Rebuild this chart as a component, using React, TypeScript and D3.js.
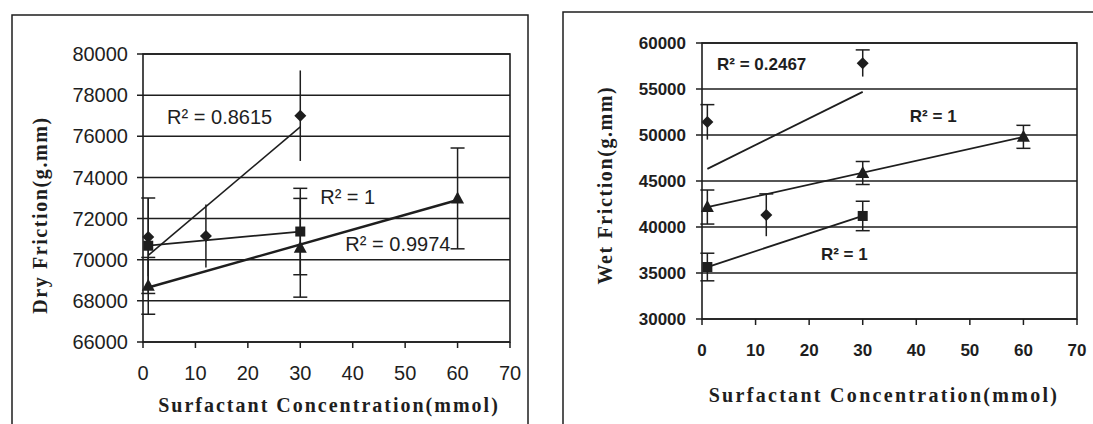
import React from "react";
import * as d3 from "d3";

const xTicks = [0, 10, 20, 30, 40, 50, 60, 70];

// Dry friction panel (left)
const dryTicks = [66000, 68000, 70000, 72000, 74000, 76000, 78000, 80000];
const dryDiamondX = [1, 12, 30];
const dryDiamondY = [71100, 71150, 77000];
const dryDiamondErr = [1900, 1530, 2200];
const drySquareX = [1, 30];
const drySquareY = [70680, 71370];
const drySquareErr = [2320, 2100];
const dryTriangleX = [1, 30, 60];
const dryTriangleY = [68730, 70580, 72980];
const dryTriangleErr = [1380, 2400, 2450];
const dryR2 = ["R² = 0.8615", "R² = 1", "R² = 0.9974"];

// Wet friction panel (right)
const wetTicks = [30000, 35000, 40000, 45000, 50000, 55000, 60000];
const wetDiamondX = [1, 12, 30];
const wetDiamondY = [51400, 41300, 57800];
const wetDiamondErr = [1900, 2300, 1450];
const wetSquareX = [1, 30];
const wetSquareY = [35650, 41200];
const wetSquareErr = [1500, 1600];
const wetTriangleX = [1, 30, 60];
const wetTriangleY = [42170, 45870, 49800];
const wetTriangleErr = [1850, 1250, 1250];
const wetR2 = ["R² = 0.2467", "R² = 1", "R² = 1"];

const INK = "#1e1e1e";

type Series = {
  xs: number[];
  ys: number[];
  err: number[];
  shape: "diamond" | "square" | "triangle";
  capTop: boolean;
  capBottom: boolean;
  trendWidth: number;
};

const fit = (xs: number[], ys: number[]) => {
  const mx = d3.mean(xs) as number;
  const my = d3.mean(ys) as number;
  const sxy = d3.sum(xs, (x, i) => (x - mx) * (ys[i] - my));
  const sxx = d3.sum(xs, (x) => (x - mx) * (x - mx));
  const slope = sxy / sxx;
  return (x: number) => my + slope * (x - mx);
};

const marker = (shape: string, cx: number, cy: number, key: string) => {
  if (shape === "square") {
    return <rect key={key} x={cx - 5} y={cy - 5} width={10} height={10} fill={INK} />;
  }
  if (shape === "diamond") {
    return (
      <path key={key} d={`M${cx},${cy - 6}L${cx + 6},${cy}L${cx},${cy + 6}L${cx - 6},${cy}Z`} fill={INK} />
    );
  }
  return (
    <path key={key} d={`M${cx},${cy - 7}L${cx + 6.5},${cy + 5}L${cx - 6.5},${cy + 5}Z`} fill={INK} />
  );
};

type PanelProps = {
  frame: [number, number, number, number];
  plot: { left: number; right: number; top: number; bottom: number };
  yTicks: number[];
  series: Series[];
  labels: string[];
  labelPos: [number, number][];
  yTitle: string;
  yTitlePos: [number, number];
  xTitlePos: [number, number];
  xTitleSpacing: number;
  tickFont: number;
  tickWeight: string;
  xLabelY: number;
  yLabelX: number;
};

const Panel = (p: PanelProps) => {
  const x = d3.scaleLinear().domain([0, 70]).range([p.plot.left, p.plot.right]);
  const y = d3
    .scaleLinear()
    .domain([p.yTicks[0], p.yTicks[p.yTicks.length - 1]])
    .range([p.plot.bottom, p.plot.top]);
  const line = d3
    .line<number>()
    .x((d) => x(d[0]))
    .y((d) => y(d[1]));
  const font = "'Liberation Sans', Arial, sans-serif";
  const serif = "'Liberation Serif', 'Times New Roman', serif";
  return (
    <g>
      <rect x={p.frame[0]} y={p.frame[1]} width={p.frame[2]} height={p.frame[3]} fill="none" stroke={INK} strokeWidth={1.5} />
      {p.yTicks.map((t) => (
        <g key={"gy" + t}>
          <line x1={p.plot.left - 6} x2={p.plot.right} y1={y(t)} y2={y(t)} stroke={INK} strokeWidth={1.5} />
          <text
            x={p.yLabelX}
            y={y(t)}
            dy="0.36em"
            textAnchor="end"
            fontFamily={font}
            fontSize={p.tickFont}
            fontWeight={p.tickWeight}
            fill={INK}
          >
            {t}
          </text>
        </g>
      ))}
      <rect
        x={p.plot.left}
        y={p.plot.top}
        width={p.plot.right - p.plot.left}
        height={p.plot.bottom - p.plot.top}
        fill="none"
        stroke={INK}
        strokeWidth={1.6}
      />
      {xTicks.map((t) => (
        <g key={"gx" + t}>
          <line x1={x(t)} x2={x(t)} y1={p.plot.bottom} y2={p.plot.bottom + 6} stroke={INK} strokeWidth={1.5} />
          <text
            x={x(t)}
            y={p.xLabelY}
            dy="0.36em"
            textAnchor="middle"
            fontFamily={font}
            fontSize={p.tickFont}
            fontWeight={p.tickWeight}
            fill={INK}
          >
            {t}
          </text>
        </g>
      ))}
      {p.series.map((s, si) => {
        const f = fit(s.xs, s.ys);
        const x0 = d3.min(s.xs) as number;
        const x1 = d3.max(s.xs) as number;
        return (
          <g key={"s" + si}>
            <path
              d={line([
                [x0, f(x0)],
                [x1, f(x1)],
              ] as any) as string}
              fill="none"
              stroke={INK}
              strokeWidth={s.trendWidth}
            />
            {s.xs.map((xv, i) => {
              const cx = x(xv);
              const hi = y(s.ys[i] + s.err[i]);
              const lo = y(s.ys[i] - s.err[i]);
              return (
                <g key={"e" + i}>
                  <line x1={cx} x2={cx} y1={hi} y2={lo} stroke={INK} strokeWidth={1.5} />
                  {s.capTop && <line x1={cx - 7} x2={cx + 7} y1={hi} y2={hi} stroke={INK} strokeWidth={1.5} />}
                  {s.capBottom && <line x1={cx - 7} x2={cx + 7} y1={lo} y2={lo} stroke={INK} strokeWidth={1.5} />}
                </g>
              );
            })}
            {s.xs.map((xv, i) => marker(s.shape, x(xv), y(s.ys[i]), "m" + i))}
          </g>
        );
      })}
      {p.labels.map((l, i) => (
        <text
          key={"r" + i}
          x={x(p.labelPos[i][0])}
          y={y(p.labelPos[i][1])}
          fontFamily={font}
          fontSize={p.tickFont}
          fontWeight={p.tickWeight}
          fill={INK}
        >
          {l}
        </text>
      ))}
      <text
        transform={`translate(${p.yTitlePos[0]},${p.yTitlePos[1]}) rotate(-90)`}
        textAnchor="middle"
        dy="0.35em"
        fontFamily={serif}
        fontWeight="bold"
        fontSize={20}
        letterSpacing={1.6}
        fill={INK}
      >
        {p.yTitle}
      </text>
      <text
        x={p.xTitlePos[0]}
        y={p.xTitlePos[1]}
        textAnchor="middle"
        dy="0.35em"
        fontFamily={serif}
        fontWeight="bold"
        fontSize={20}
        letterSpacing={p.xTitleSpacing}
        fill={INK}
      >
        Surfactant Concentration(mmol)
      </text>
    </g>
  );
};

export default function App() {
  const dry: Series[] = [
    { xs: dryDiamondX, ys: dryDiamondY, err: dryDiamondErr, shape: "diamond", capTop: false, capBottom: false, trendWidth: 1.6 },
    { xs: drySquareX, ys: drySquareY, err: drySquareErr, shape: "square", capTop: true, capBottom: true, trendWidth: 1.8 },
    { xs: dryTriangleX, ys: dryTriangleY, err: dryTriangleErr, shape: "triangle", capTop: true, capBottom: true, trendWidth: 2.4 },
  ];
  const wet: Series[] = [
    { xs: wetDiamondX, ys: wetDiamondY, err: wetDiamondErr, shape: "diamond", capTop: true, capBottom: false, trendWidth: 1.8 },
    { xs: wetSquareX, ys: wetSquareY, err: wetSquareErr, shape: "square", capTop: true, capBottom: true, trendWidth: 1.8 },
    { xs: wetTriangleX, ys: wetTriangleY, err: wetTriangleErr, shape: "triangle", capTop: true, capBottom: true, trendWidth: 1.8 },
  ];
  return (
    <svg
      width={1093}
      height={424}
      style={{ position: "absolute", left: 0, top: 0, background: "#fff" }}
    >
      <Panel
        frame={[12, 15, 516, 440]}
        plot={{ left: 143, right: 510, top: 54, bottom: 342 }}
        yTicks={dryTicks}
        series={dry}
        labels={dryR2}
        labelPos={[
          [4.6, 76590],
          [33.8, 72730],
          [38.6, 70440],
        ]}
        yTitle="Dry Friction(g.mm)"
        yTitlePos={[40, 215]}
        xTitlePos={[329, 405]}
        xTitleSpacing={2}
        tickFont={20}
        tickWeight="normal"
        xLabelY={373}
        yLabelX={128}
      />
      <Panel
        frame={[563, 12, 560, 440]}
        plot={{ left: 702, right: 1077, top: 43, bottom: 319 }}
        yTicks={wetTicks}
        series={wet}
        labels={wetR2}
        labelPos={[
          [2.8, 57070],
          [38.8, 51410],
          [22.2, 36410],
        ]}
        yTitle="Wet Friction(g.mm)"
        yTitlePos={[605, 185]}
        xTitlePos={[884, 395]}
        xTitleSpacing={2.3}
        tickFont={17}
        tickWeight="bold"
        xLabelY={350}
        yLabelX={686}
      />
    </svg>
  );
}
